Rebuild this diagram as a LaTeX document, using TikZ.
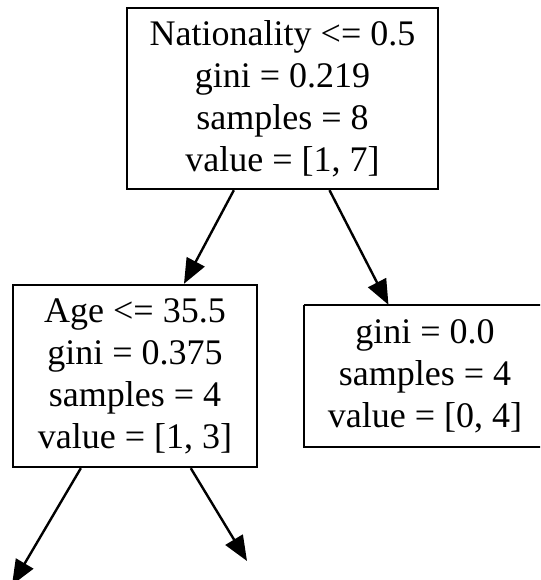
\documentclass[tikz,border=0pt]{standalone}
\usepackage{fontspec}
\setmainfont{Liberation Serif}
\usetikzlibrary{arrows.meta}
\tikzset{
  treetext/.style={align=center, inner sep=0pt, font=\fontsize{36}{42}\selectfont},
  treebox/.style={treetext, draw=black, line width=2.4pt, fill=white},
  boxline/.style={draw=black, line width=2.4pt},
  treeedge/.style={draw=black, line width=2.4pt, -{Triangle[length=25pt,width=20pt]}}
}
\begin{document}
\begin{tikzpicture}[x=1pt, y=-1pt]
  \useasboundingbox (0,0) rectangle (540,580);
  \clip (0,0) rectangle (540,580);
  \fill[white] (0,0) rectangle (540,580);
  \node[treebox, minimum width=311pt, minimum height=181pt] (root) at (282.5,98.5)
    {Nationality <= 0.5\\gini = 0.219\\samples = 8\\value = [1, 7]};
  \node[treebox, minimum width=244pt, minimum height=182pt] (left) at (135,376)
    {Age <= 35.5\\gini = 0.375\\samples = 4\\value = [1, 3]};
  \node[treetext, minimum width=242pt, minimum height=142pt] (right) at (425,376)
    {gini = 0.0\\samples = 4\\value = [0, 4]};
  \draw[boxline] (right.north west) -- ++(280,0) (right.north west) -- (right.south west) -- ++(280,0);
  \coordinate (ll) at (12,585);
  \coordinate (lr) at (247,561);
  \draw[treeedge] (root) -- (left);
  \draw[treeedge] (root) -- (right);
  \draw[treeedge] (left) -- (ll);
  \draw[treeedge] (left) -- (lr);
\end{tikzpicture}
\end{document}
